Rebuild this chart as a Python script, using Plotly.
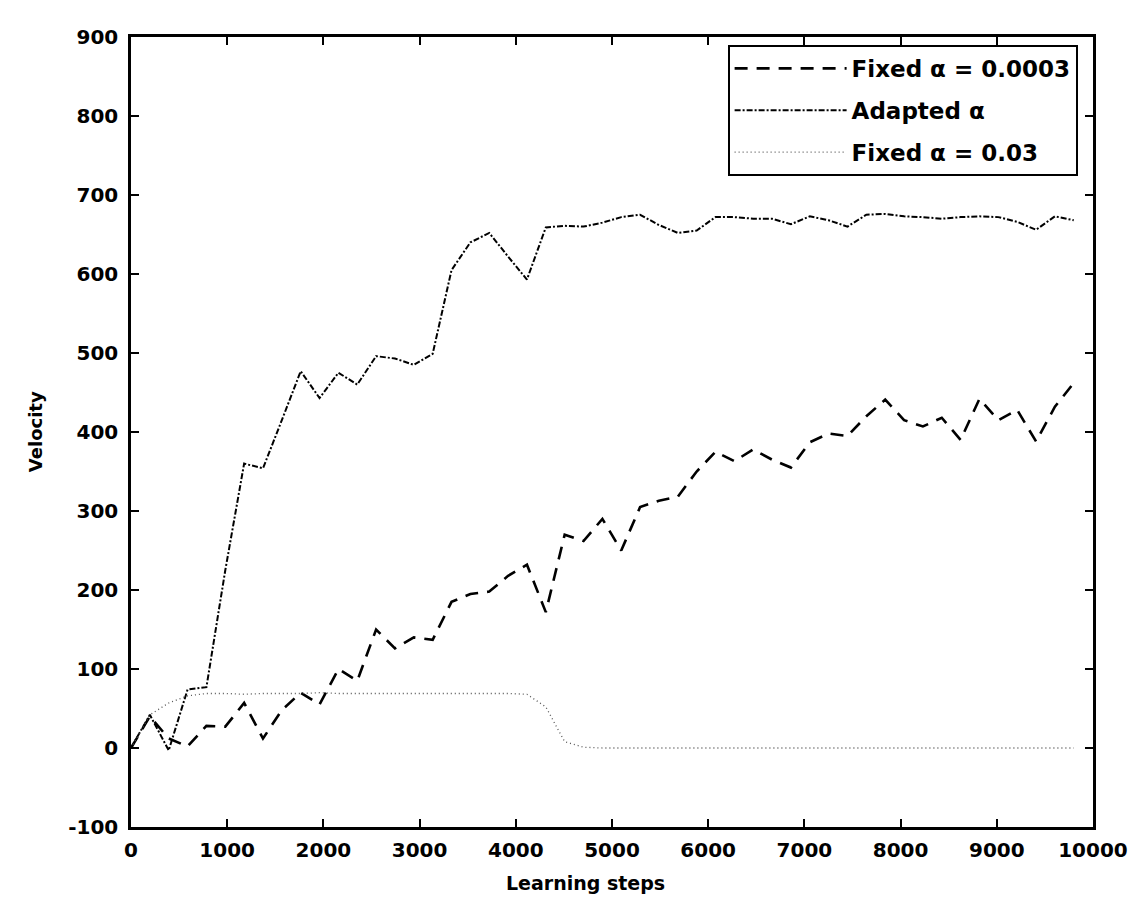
import plotly.graph_objects as go

# Learning steps (sample positions)
steps = [0, 196, 392, 588, 784, 980, 1176, 1372, 1568, 1764, 1960, 2156, 2352, 2548,
         2744, 2940, 3136, 3332, 3528, 3724, 3920, 4116, 4312, 4508, 4704, 4900, 5096,
         5292, 5488, 5684, 5880, 6076, 6272, 6468, 6664, 6860, 7056, 7252, 7448, 7644,
         7840, 8036, 8232, 8428, 8624, 8820, 9016, 9212, 9408, 9604, 9800]

fixed_small = [0, 40, 12, 2, 28, 27, 57, 12, 48, 70, 55, 100, 85, 150, 126, 140, 137,
               185, 195, 198, 218, 232, 172, 270, 262, 290, 250, 305, 313, 318, 350,
               375, 363, 378, 365, 355, 387, 398, 395, 420, 441, 415, 407, 418, 390,
               442, 415, 428, 388, 432, 462]

adapted = [0, 42, -3, 74, 77, 225, 360, 354, 415, 477, 443, 475, 460, 496, 493, 485,
           499, 605, 640, 652, 622, 593, 659, 661, 660, 665, 672, 675, 662, 652, 655,
           672, 672, 670, 670, 663, 673, 668, 660, 675, 676, 673, 672, 670, 672, 673,
           672, 666, 656, 673, 668]

fixed_large = [0, 42, 57, 66, 69, 69, 68, 69, 69, 69, 70, 69, 69, 69, 69, 69, 69, 69,
               69, 69, 69, 68, 52, 8, 1, 0, 0, 0, 0, 0, 0, 0, 0, 0, 0, 0, 0, 0, 0, 0,
               0, 0, 0, 0, 0, 0, 0, 0, 0, 0, 0]

series_names = ["Fixed α = 0.0003", "Adapted α", "Fixed α = 0.03"]

x_ticks = [0, 1000, 2000, 3000, 4000, 5000, 6000, 7000, 8000, 9000, 10000]
x_labels = ["0", "1000", "2000", "3000", "4000", "5000", "6000", "7000", "8000",
            "9000", "10000"]
y_ticks = [-100, 0, 100, 200, 300, 400, 500, 600, 700, 800, 900]
y_labels = ["-100", "0", "100", "200", "300", "400", "500", "600", "700", "800", "900"]

FONT = "DejaVu Sans"

fig = go.Figure()
fig.add_trace(go.Scatter(x=steps, y=fixed_small, mode="lines", name=series_names[0],
                         legendgroup="a",
                         line=dict(color="black", width=2.6, dash="13px,9px")))
fig.add_trace(go.Scatter(x=steps, y=adapted, mode="lines", name=series_names[1],
                         legendgroup="b",
                         line=dict(color="black", width=2, dash="6px,2px,2px,2px")))
fig.add_trace(go.Scatter(x=steps, y=fixed_large, mode="lines", name=series_names[2],
                         legendgroup="c",
                         line=dict(color="#555555", width=1.3, dash="1px,3px")))

axis_common = dict(showline=True, linecolor="black", linewidth=2.5, mirror="ticks",
                   ticks="inside", ticklen=8, tickwidth=2, tickcolor="black",
                   showgrid=False, zeroline=False,
                   tickfont=dict(family=FONT, size=20, color="black", weight="bold"))

fig.update_xaxes(range=[0, 10000], tickvals=x_ticks, ticktext=x_labels,
                 ticklabelstandoff=3, **axis_common)
fig.update_yaxes(range=[-100, 900], tickvals=y_ticks, ticktext=y_labels,
                 ticklabelstandoff=6, **axis_common)

fig.add_annotation(text="Learning steps", xref="paper", yref="paper",
                   x=0.472, y=-0.071, xanchor="center", yanchor="middle",
                   showarrow=False,
                   font=dict(family=FONT, size=19, color="black", weight="bold"))
fig.add_annotation(text="Velocity", xref="paper", yref="paper",
                   x=-0.0996, y=0.5, xanchor="center", yanchor="middle",
                   textangle=-90, showarrow=False,
                   font=dict(family=FONT, size=18, color="black", weight="bold"))

fig.update_layout(
    width=1132, height=890,
    margin=dict(l=123, r=45, t=29, b=71),
    paper_bgcolor="white", plot_bgcolor="white",
    showlegend=True,
    legend=dict(x=0.984, y=0.990, xanchor="right", yanchor="top",
                bgcolor="white", bordercolor="black", borderwidth=2,
                font=dict(family=FONT, size=23, color="black", weight="bold"),
                itemwidth=112, tracegroupgap=9),
)

fig.write_html("out.html")
